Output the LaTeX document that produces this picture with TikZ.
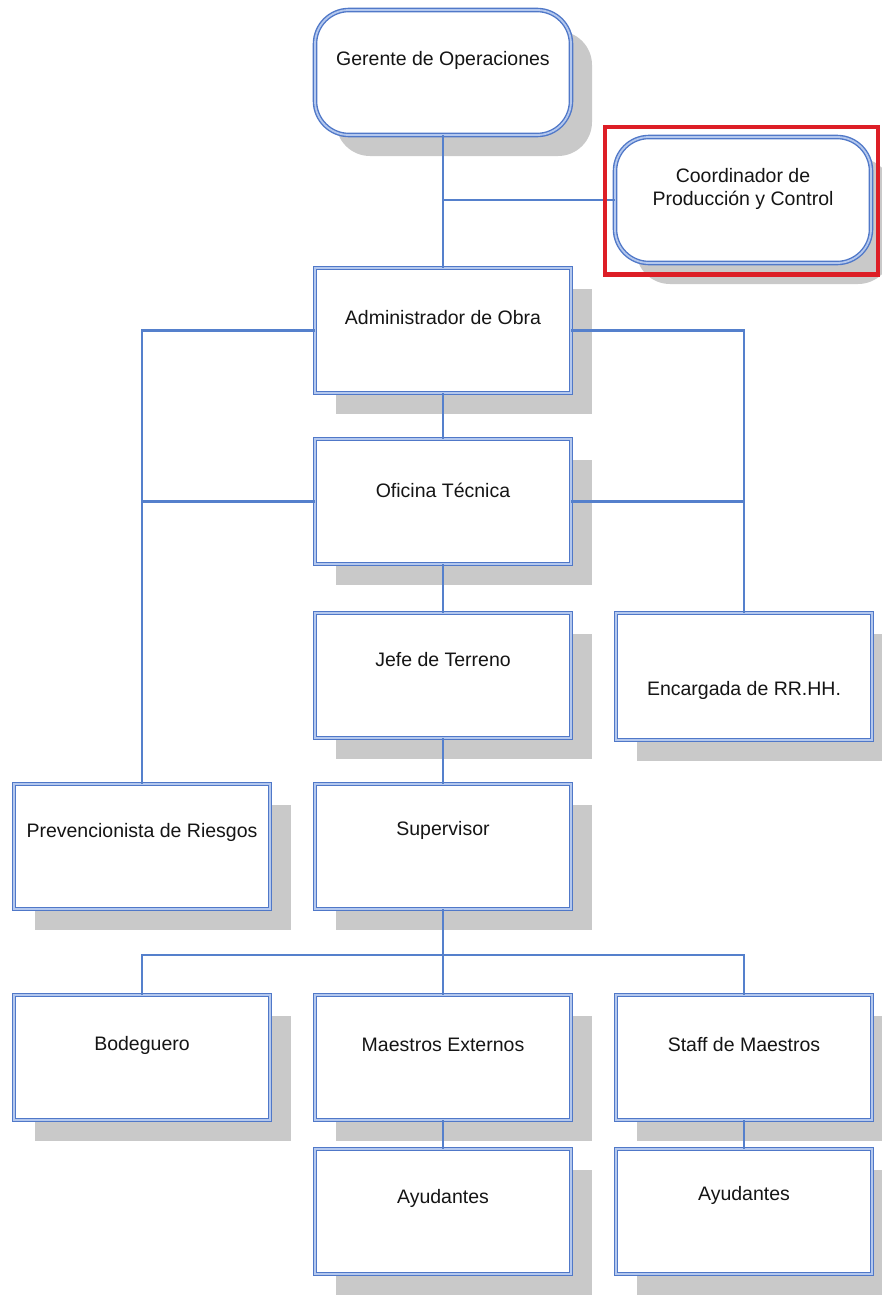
\documentclass[tikz,border=0pt]{standalone}
\usepackage{fontspec}
\setmainfont{Liberation Sans}
\usetikzlibrary{shadows}

\definecolor{boxblue}{HTML}{5078C8}
\definecolor{boxgap}{HTML}{B4C8EE}
\definecolor{linkblue}{HTML}{5580CC}
\definecolor{shade}{HTML}{C9C9C9}
\definecolor{ink}{HTML}{151515}
\definecolor{alertred}{HTML}{DD1E26}

\tikzset{
  box/.style={draw=boxblue, double=boxgap, double distance=1.8pt, line width=1.4pt,
    fill=white, minimum width=256pt, minimum height=125pt, anchor=north west,
    inner sep=0pt, outer sep=0pt,
    drop shadow={shadow xshift=21pt, shadow yshift=-21pt, fill=shade, opacity=1}},
  rbox/.style={box, rounded corners=34pt},
  lbl/.style={text=ink, font=\fontsize{19.5}{22.5}\selectfont, align=center, inner sep=0pt},
  link/.style={draw=linkblue, line width=2.2pt},
  highlight/.style={draw=alertred, line width=4.5pt, minimum width=273pt,
    minimum height=147.5pt, anchor=north west, inner sep=0pt, outer sep=0pt}
}

\begin{document}
\begin{tikzpicture}[x=1pt,y=-1pt]
\useasboundingbox[fill=white] (0,0) rectangle (881,1296);

% boxes
\node[rbox] (ger) at (315,10) {};
\node[rbox, minimum height=126pt] (coo) at (615,137) {};
\node[box] (adm) at (315,268) {};
\node[box] (ofi) at (315,439) {};
\node[box] (jef) at (315,613) {};
\node[box, minimum height=127pt] (enc) at (616,613) {};
\node[box] (pre) at (14,784) {};
\node[box] (sup) at (315,784) {};
\node[box] (bod) at (14,995) {};
\node[box] (mae) at (315,995) {};
\node[box] (sta) at (616,995) {};
\node[box] (ay1) at (315,1149) {};
\node[box] (ay2) at (616,1149) {};

% labels
\node[lbl] (ger-t) at ([yshift=-50pt]ger.north) {Gerente de Operaciones};
\node[lbl] (coo-t) at ([yshift=-52pt]coo.north) {Coordinador de\\Producción y Control};
\node[lbl] (adm-t) at ([yshift=-50pt]adm.north) {Administrador de Obra};
\node[lbl] (ofi-t) at ([yshift=-51pt]ofi.north) {Oficina Técnica};
\node[lbl] (jef-t) at ([yshift=-47pt]jef.north) {Jefe de Terreno};
\node[lbl] (enc-t) at ([yshift=-77pt]enc.north) {Encargada de RR.HH.};
\node[lbl] (pre-t) at ([yshift=-48pt]pre.north) {Prevencionista de Riesgos};
\node[lbl] (sup-t) at ([yshift=-46pt]sup.north) {Supervisor};
\node[lbl] (bod-t) at ([yshift=-50pt]bod.north) {Bodeguero};
\node[lbl] (mae-t) at ([yshift=-50pt]mae.north) {Maestros Externos};
\node[lbl] (sta-t) at ([yshift=-50pt]sta.north) {Staff de Maestros};
\node[lbl] (ay1-t) at ([yshift=-49pt]ay1.north) {Ayudantes};
\node[lbl] (ay2-t) at ([yshift=-46pt]ay2.north) {Ayudantes};

% connectors
\draw[link] (ger.south) -- (adm.north);
\draw[link] (ger.south |- coo.west) -- (coo.west);
\draw[link] (adm.west) -| (pre.north);
\draw[link] (ofi.west) -- (ofi.west -| pre.north);
\draw[link] (adm.east) -| (enc.north);
\draw[link] (ofi.east) -- (ofi.east -| enc.north);
\draw[link] (adm.south) -- (ofi.north);
\draw[link] (ofi.south) -- (jef.north);
\draw[link] (jef.south) -- (sup.north);
\coordinate (bus) at (443,955);
\draw[link] (sup.south) -- (bus);
\draw[link] (bod.north) |- (bus) -| (sta.north);
\draw[link] (bus) -- (mae.north);
\draw[link] (mae.south) -- (ay1.north);
\draw[link] (sta.south) -- (ay2.north);

% highlight frame
\node[highlight] (mark) at (605,127) {};
\end{tikzpicture}
\end{document}
